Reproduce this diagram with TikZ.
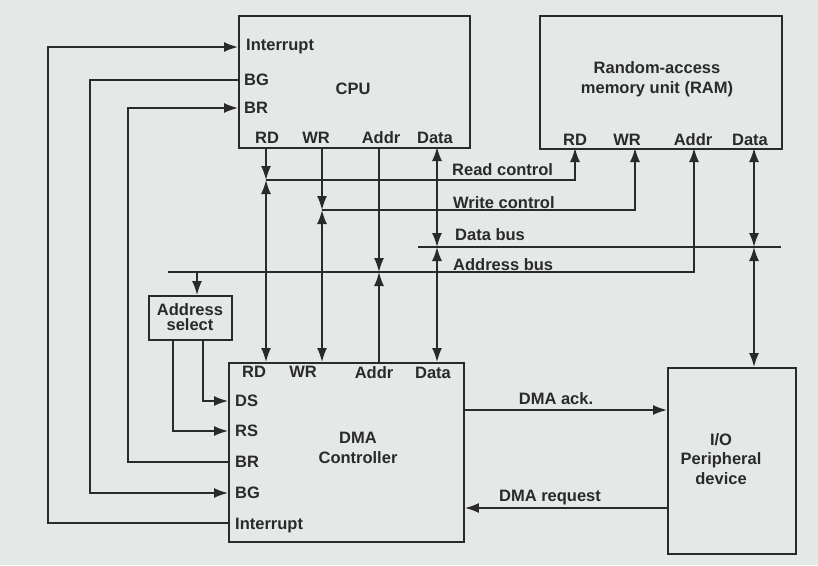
\documentclass[tikz,border=0pt]{standalone}
\usepackage{fontspec}
\setmainfont{Liberation Sans}
\usetikzlibrary{arrows.meta,calc}
\definecolor{bgc}{RGB}{228,232,230}
\definecolor{ink}{RGB}{42,42,42}
\begin{document}
\begin{tikzpicture}[x=1pt,y=-1pt,
  box/.style={draw=ink,line width=1.9pt,inner sep=0pt,anchor=north west},
  lbl/.style={font=\fontsize{16.5}{19.5}\selectfont\bfseries,text=ink,inner sep=0pt,align=center},
  wire/.style={draw=ink,line width=1.7pt},
  arr/.style={wire,-{Latex[length=14pt,width=10pt]}},
  darr/.style={wire,{Latex[length=14pt,width=10pt]}-{Latex[length=14pt,width=10pt]}}]
\fill[bgc] (0,0) rectangle (818,565);
\useasboundingbox (0,0) rectangle (818,565);

% boxes
\node[box,minimum width=231pt,minimum height=132pt] (cpu) at (238,15) {};
\node[box,minimum width=242pt,minimum height=133pt] (ram) at (539,15) {};
\node[box,minimum width=235pt,minimum height=179pt] (dma) at (228,362) {};
\node[box,minimum width=128pt,minimum height=186pt] (io) at (667,367) {};
\node[box,minimum width=83pt,minimum height=44pt] (asel) at (148,295) {};

% box titles
\node[lbl] (cpuT) at (353,89) {CPU};
\node[lbl] (ramT) at (657,79) {Random-access\\memory unit (RAM)};
\node[lbl] (dmaT) at (358,448) {DMA\\Controller};
\node[lbl] (ioT) at (721,459) {I/O\\Peripheral\\device};
\node[lbl,font=\fontsize{16.5}{15}\selectfont\bfseries] (aselT) at (190,317) {Address\\select};

% CPU port labels
\node[lbl,anchor=west] (cpuInt) at (246,47) {Interrupt};
\node[lbl,anchor=west] (cpuBG) at (244,80) {BG};
\node[lbl,anchor=west] (cpuBR) at (244,108) {BR};
\node[lbl] (cpuRDl) at (267,138) {RD};
\node[lbl] (cpuWRl) at (316,138) {WR};
\node[lbl] (cpuAl) at (381,138) {Addr};
\node[lbl] (cpuDl) at (435,138) {Data};
% RAM port labels
\node[lbl] (ramRDl) at (575,140) {RD};
\node[lbl] (ramWRl) at (627,140) {WR};
\node[lbl] (ramAl) at (693,140) {Addr};
\node[lbl] (ramDl) at (750,140) {Data};
% DMA port labels
\node[lbl] (dmaRDl) at (254,372) {RD};
\node[lbl] (dmaWRl) at (303,372) {WR};
\node[lbl] (dmaAl) at (374,373) {Addr};
\node[lbl] (dmaDl) at (433,373) {Data};
\node[lbl,anchor=west] (dmaDS) at (235,401) {DS};
\node[lbl,anchor=west] (dmaRS) at (235,431) {RS};
\node[lbl,anchor=west] (dmaBR) at (235,462) {BR};
\node[lbl,anchor=west] (dmaBG) at (235,493) {BG};
\node[lbl,anchor=west] (dmaInt) at (235,526) {Interrupt};

% bus labels
\node[lbl,anchor=west] (lrc) at (452,170) {Read control};
\node[lbl,anchor=west] (lwc) at (453,203) {Write control};
\node[lbl,anchor=west] (ldb) at (455,235) {Data bus};
\node[lbl,anchor=west] (lab) at (453,265) {Address bus};
\node[lbl] (lack) at (556,399) {DMA ack.};
\node[lbl] (lreq) at (550,498) {DMA request};

% port coordinates
\coordinate (cRD) at (266,147);
\coordinate (cWR) at (322,147);
\coordinate (cA) at (379,147);
\coordinate (cD) at (437,147);
\coordinate (rRD) at (575,148);
\coordinate (rWR) at (635,148);
\coordinate (rA) at (694,148);
\coordinate (rD) at (754,148);
\coordinate (dRD) at (266,362);
\coordinate (dWR) at (322,362);
\coordinate (dA) at (379,362);
\coordinate (dD) at (437,362);
\coordinate (ioD) at (754,367);
% junctions
\coordinate (jRC) at (266,180);
\coordinate (jWC) at (322,210);
\coordinate (jA) at (379,272);
\coordinate (jD) at (437,247);
\coordinate (jRD) at (754,247);
\coordinate (dbL) at (418,247);
\coordinate (dbR) at (781,247);
\coordinate (abL) at (168,272);
\coordinate (jAS) at (197,272);

% read / write control
\draw[arr] (cRD) -- (jRC);
\draw[darr] (jRC) -- (dRD);
\draw[arr] (jRC) -| (rRD);
\draw[arr] (cWR) -- (jWC);
\draw[darr] (jWC) -- (dWR);
\draw[arr] (jWC) -| (rWR);
% address bus
\draw[arr] (abL) -| (rA);
\draw[arr] (cA) -- (jA);
\draw[arr] (dA) -- (jA);
\draw[arr] (jAS) -- (asel.north -| jAS);
% data bus
\draw[wire] (dbL) -- (dbR);
\draw[darr] (cD) -- (jD);
\draw[darr] (dD) -- (jD);
\draw[darr] (rD) -- (jRD);
\draw[darr] (ioD) -- (jRD);

% address select to DMA
\draw[arr] ($(asel.south west)+(55,0)$) |- (dmaDS.west -| dma.west);
\draw[arr] ($(asel.south west)+(25,0)$) |- (dmaRS.west -| dma.west);

% bus request / grant / interrupt
\draw[arr] (dmaBR.west -| dma.west) -- ++(-100,0) |- (cpuBR.west -| cpu.west);
\draw[arr] (cpuBG.west -| cpu.west) -- ++(-148,0) |- (dmaBG.west -| dma.west);
\draw[arr] ($(dma.west |- dmaInt.west)+(0,-3)$) -- ++(-180,0) |- (cpuInt.west -| cpu.west);

% DMA ack / request
\draw[arr] (dma.east |- 0,410) -- (io.west |- 0,410);
\draw[arr] (io.west |- 0,508) -- (dma.east |- 0,508);
\end{tikzpicture}
\end{document}
